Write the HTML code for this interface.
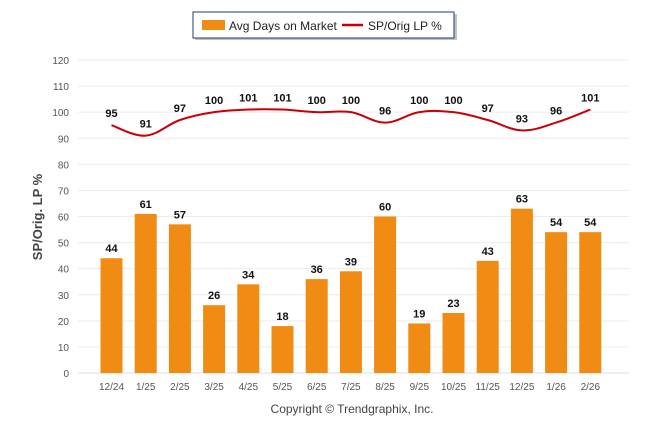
<!DOCTYPE html>
<html><head><meta charset="utf-8"><style>
body{margin:0;background:#fff;}
svg{display:block;font-family:"Liberation Sans",sans-serif;}
</style></head><body>
<svg id="c" width="646" height="434">
<g>
<rect x="195" y="14" width="262" height="26" fill="#888" opacity="0.5"/>
<rect x="193" y="12" width="261" height="26" fill="#fff" stroke="#1f3d6b" stroke-width="1"/>
<rect x="202" y="20" width="23" height="10" fill="#f08c14"/>
<text x="229" y="30" font-size="12" fill="#222">Avg Days on Market</text>
<line x1="342" y1="25" x2="363" y2="25" stroke="#c8000a" stroke-width="2.5"/>
<text x="368" y="30" font-size="12" fill="#222">SP/Orig LP %</text>
</g>
<text transform="translate(42,217) rotate(-90)" text-anchor="middle" font-size="13" font-weight="bold" fill="#444">SP/Orig. LP %</text>
<text x="352" y="413" text-anchor="middle" font-size="12" fill="#444">Copyright © Trendgraphix, Inc.</text>
<g id="grid"></g><g id="bars"></g><g id="line"></g><g id="labels"></g>
</svg>
<script>
const categories=["12/24","1/25","2/25","3/25","4/25","5/25","6/25","7/25","8/25","9/25","10/25","11/25","12/25","1/26","2/26"];
const daysOnMarket=[44,61,57,26,34,18,36,39,60,19,23,43,63,54,54];
const spOrigLP=[95,91,97,100,101,101,100,100,96,100,100,97,93,96,101];
const yTicks=[0,10,20,30,40,50,60,70,80,90,100,110,120];
const NS="http://www.w3.org/2000/svg";
const y=v=>373-v*2.6083;
const x=i=>111.5+i*34.2;
function el(t,a,p){const e=document.createElementNS(NS,t);for(const k in a)e.setAttribute(k,a[k]);document.getElementById(p).appendChild(e);return e;}
yTicks.forEach(t=>{
 const g=el('line',{x1:78,x2:629,y1:y(t),y2:y(t),stroke:t===0?'#ddd':'#ececec'},'grid');
 
 
 const tx=el('text',{x:69,y:y(t)+4,'text-anchor':'end','font-size':'10',fill:'#555'},'grid');tx.textContent=t;
 
 
});
categories.forEach((c,i)=>{
 const tx=el('text',{x:x(i),y:390,'text-anchor':'middle','font-size':'10',fill:'#555'},'grid');tx.textContent=c;
 
 
 const b=el('rect',{x:x(i)-11,y:y(daysOnMarket[i]),width:22,height:373-y(daysOnMarket[i]),fill:'#f08c14'},'bars');
 
 
 const l=el('text',{x:x(i),y:y(daysOnMarket[i])-6,'text-anchor':'middle','font-size':'11','font-weight':'bold',fill:'#111'},'labels');l.textContent=daysOnMarket[i];
 
 
 const l2=el('text',{x:x(i),y:y(spOrigLP[i])-8,'text-anchor':'middle','font-size':'11','font-weight':'bold',fill:'#111'},'labels');l2.textContent=spOrigLP[i];
 
 
});
const pts=spOrigLP.map((v,i)=>[x(i),y(v)]);
let d='M'+pts[0][0]+','+pts[0][1];
for(let i=0;i<pts.length-1;i++){
 const p0=pts[Math.max(0,i-1)],p1=pts[i],p2=pts[i+1],p3=pts[Math.min(pts.length-1,i+2)];
 const k=0.18;
 d+=` C${p1[0]+(p2[0]-p0[0])*k},${p1[1]+(p2[1]-p0[1])*k} ${p2[0]-(p3[0]-p1[0])*k},${p2[1]-(p3[1]-p1[1])*k} ${p2[0]},${p2[1]}`;
}
const ln=el('path',{d:d,fill:'none',stroke:'#c8000a','stroke-width':2},'line');


</script>
</body></html>
